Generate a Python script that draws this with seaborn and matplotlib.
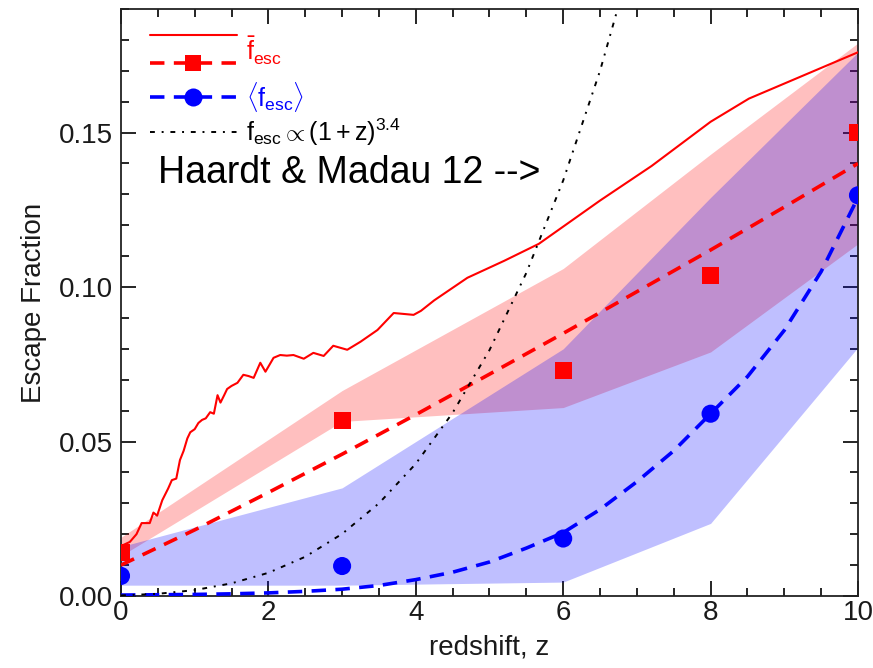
import numpy as np
import pandas as pd
import seaborn as sns
import matplotlib
matplotlib.use("Agg")
import matplotlib.pyplot as plt
from matplotlib.lines import Line2D
from matplotlib.ticker import MultipleLocator
from matplotlib.transforms import ScaledTranslation

# --- cumulative mean escape fraction (noisy curve) ---
fbar_z = [0.00, 0.03, 0.12, 0.21, 0.28, 0.39, 0.44, 0.49, 0.56, 0.64, 0.69,
          0.75, 0.80, 0.85, 0.90, 0.94, 1.00, 1.05, 1.10, 1.15, 1.21, 1.26,
          1.31, 1.35, 1.40, 1.44, 1.50, 1.58, 1.66, 1.73, 1.80, 1.89, 1.96,
          2.07, 2.16, 2.25, 2.34, 2.48, 2.61, 2.75, 2.88, 3.07, 3.25, 3.48,
          3.70, 3.97, 4.07, 4.25, 4.70, 5.20, 5.67, 6.50, 7.20, 8.00, 8.52,
          10.00]
fbar_val = [0.0160, 0.0165, 0.0175, 0.0200, 0.0236, 0.0236, 0.0270, 0.0260,
            0.0310, 0.0348, 0.0375, 0.0380, 0.0440, 0.0470, 0.0510, 0.0530,
            0.0540, 0.0560, 0.0570, 0.0575, 0.0595, 0.0590, 0.0650, 0.0626,
            0.0650, 0.0670, 0.0680, 0.0690, 0.0716, 0.0712, 0.0706, 0.0755,
            0.0726, 0.0771, 0.0780, 0.0778, 0.0780, 0.0768, 0.0787, 0.0777,
            0.0810, 0.0797, 0.0823, 0.0861, 0.0916, 0.0910, 0.0923, 0.0957,
            0.1030, 0.1085, 0.1140, 0.1280, 0.1392, 0.1535, 0.1610, 0.1760]

# --- binned escape fractions ---
bin_z = [0, 3, 6, 8, 10]
fbar_bin = [0.0142, 0.0568, 0.0729, 0.1039, 0.1500]
fmean_bin = [0.0065, 0.0097, 0.0186, 0.0590, 0.1297]

# scatter bands
red_lo = [0.0130, 0.0565, 0.0610, 0.0790, 0.1140]
red_hi = [0.0190, 0.0665, 0.1060, 0.1430, 0.1790]
blue_lo = [0.0035, 0.0035, 0.0045, 0.0235, 0.0805]
blue_hi = [0.0160, 0.0350, 0.0800, 0.1290, 0.1760]

# --- fitted curves ---
fit_z = [0, 1, 2, 3, 4, 5, 6, 7, 8, 9, 10]
fbar_fit = [0.0100, 0.0214, 0.0335, 0.0459, 0.0587, 0.0718, 0.0850,
            0.0985, 0.1120, 0.1259, 0.1400]

mean_fit_z = [0, 0.5, 1, 1.5, 2, 2.5, 3, 3.5, 4, 4.5, 5, 5.5, 6, 6.5, 7,
              7.5, 8, 8.5, 9, 9.5, 10]
mean_fit = [0.0003, 0.0004, 0.0005, 0.0007, 0.0010, 0.0015, 0.0022, 0.0034,
            0.0053, 0.0077, 0.0110, 0.0155, 0.0205, 0.0280, 0.0370, 0.0470,
            0.0590, 0.0710, 0.0860, 0.1050, 0.1290]

pow_z = [0, 0.5, 1, 1.5, 2, 2.5, 3, 3.5, 4, 4.5, 5, 5.5, 6, 6.5, 7]
pow_val = [0.00018, 0.00071, 0.0019, 0.0041, 0.0075, 0.0127, 0.0201, 0.0300,
           0.0428, 0.0593, 0.0796, 0.1046, 0.1345, 0.1700, 0.2120]

RED = "#ff0000"
BLUE = "#0000ff"

sns.set_theme(style="ticks")
plt.rcParams["font.family"] = ["Liberation Sans", "DejaVu Sans"]
plt.rcParams["mathtext.fontset"] = "custom"
plt.rcParams["mathtext.rm"] = "Liberation Sans"
plt.rcParams["mathtext.it"] = "Liberation Sans:italic"
plt.rcParams["mathtext.bf"] = "Liberation Sans:bold"

fig = plt.figure(figsize=(8.73, 6.68), dpi=100)
ax = fig.add_axes([0.1386, 0.1078, 0.8442, 0.8787])

# shaded scatter ranges
ax.fill_between(bin_z, red_lo, red_hi, color=RED, alpha=0.25, lw=0, zorder=1)
ax.fill_between(bin_z, blue_lo, blue_hi, color=BLUE, alpha=0.25, lw=0, zorder=1.1)

df_bar = pd.DataFrame({"z": fbar_z, "f": fbar_val})
sns.lineplot(data=df_bar, x="z", y="f", ax=ax, color=RED, lw=1.5, zorder=3)

sns.lineplot(x=fit_z, y=fbar_fit, ax=ax, color=RED, lw=2.6,
             linestyle=(0, (4, 2.6)), zorder=3)
sns.lineplot(x=mean_fit_z, y=mean_fit, ax=ax, color=BLUE, lw=2.6,
             linestyle=(0, (4, 2.6)), zorder=3)
sns.lineplot(x=pow_z, y=pow_val, ax=ax, color="black", lw=1.4,
             linestyle=(0, (2.5, 3.5, 1, 3.5)), zorder=3)

sns.scatterplot(x=bin_z, y=fbar_bin, ax=ax, marker="s", s=150, color=RED,
                edgecolor="none", zorder=4)
sns.scatterplot(x=bin_z, y=fmean_bin, ax=ax, marker="o", s=170, color=BLUE,
                edgecolor="none", zorder=4)

ax.set_xlim(0, 10)
ax.set_ylim(0, 0.19)
ax.xaxis.set_major_locator(MultipleLocator(2))
ax.xaxis.set_minor_locator(MultipleLocator(0.5))
ax.yaxis.set_major_locator(MultipleLocator(0.05))
ax.yaxis.set_minor_locator(MultipleLocator(0.01))
ax.yaxis.set_major_formatter(matplotlib.ticker.FormatStrFormatter("%.2f"))
ax.tick_params(which="both", direction="in", top=True, right=True,
               color="black", width=1.2, labelsize=20, labelcolor="#1a1a1a")
ax.tick_params(which="major", length=11)
ax.tick_params(which="minor", length=6)
ax.tick_params(axis="x", pad=3)
ax.tick_params(axis="y", pad=6)
for sp in ax.spines.values():
    sp.set_linewidth(1.3)
    sp.set_color("#222222")

ax.set_xlabel("redshift, z", fontsize=20, labelpad=6, color="#1a1a1a")
ax.set_ylabel("Escape Fraction", fontsize=20, labelpad=8, color="#1a1a1a")

ax.text(0.5, 0.137, "Haardt & Madau 12 -->", fontsize=27, color="black",
        va="center", ha="left", zorder=6)

# legend
h_solid = Line2D([], [], color=RED, lw=1.5)
h_rdash = Line2D([], [], color=RED, lw=2.6, linestyle=(0, (4, 2.6)),
                 marker="s", markersize=12, markeredgewidth=0)
h_bdash = Line2D([], [], color=BLUE, lw=2.6, linestyle=(0, (4, 2.6)),
                 marker="o", markersize=13, markeredgewidth=0)
h_pow = Line2D([], [], color="black", lw=1.4, linestyle=(0, (2.5, 3.5, 1, 3.5)))
labels = [r"$\bar{\mathrm{f}}_{\mathrm{esc}}$", " ",
          r"$\langle \mathrm{f}_{\mathrm{esc}}\rangle$",
          r"$\mathrm{f}_{\mathrm{esc}} \propto (1 + \mathrm{z})^{3.4}$"]
leg = ax.legend([h_solid, h_rdash, h_bdash, h_pow], labels, loc="upper left",
                bbox_to_anchor=(0.039, 0.985), borderaxespad=0, borderpad=0,
                frameon=False, fontsize=18, handlelength=3.5, handletextpad=0.35,
                labelspacing=0.12)
for txt, col in zip(leg.get_texts(), [RED, RED, BLUE, "black"]):
    txt.set_color(col)
t0 = leg.get_texts()[0]
t0.set_transform(t0.get_transform() +
                 ScaledTranslation(0, -12 / 72, fig.dpi_scale_trans))

fig.savefig("out.png", dpi=100)
